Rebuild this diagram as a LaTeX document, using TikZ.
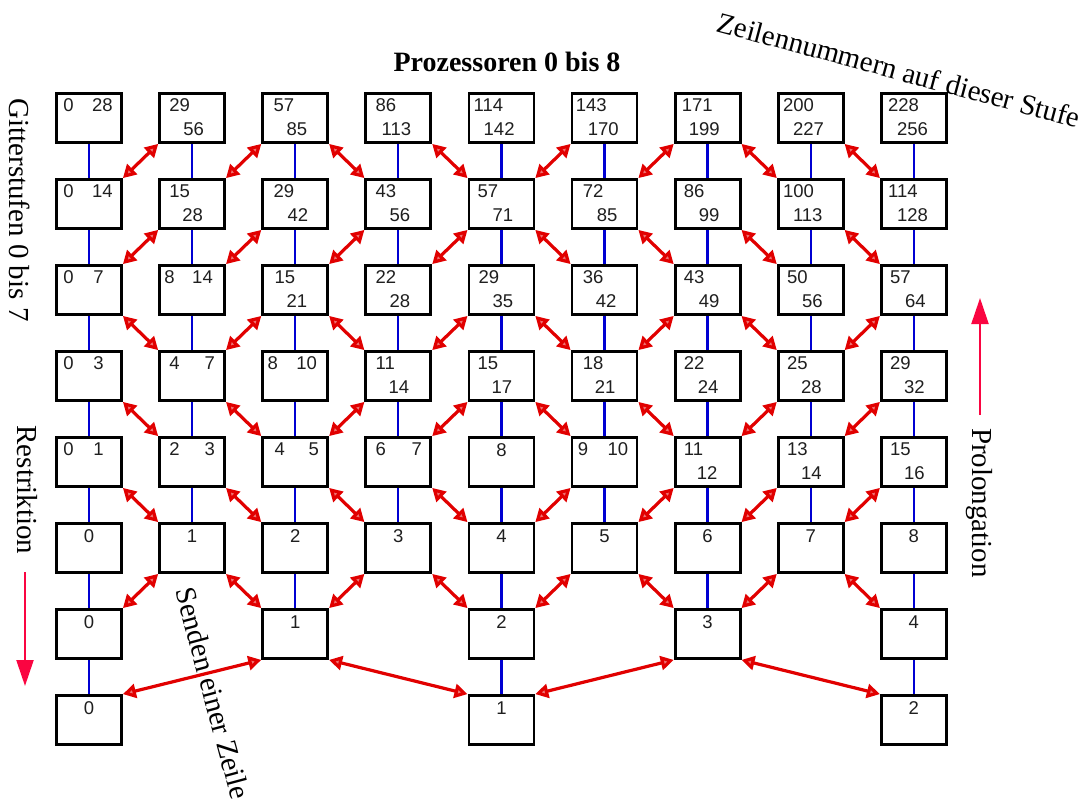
\documentclass[tikz,border=0pt]{standalone}
\usepackage{fontspec}
\setmainfont{Liberation Serif}
\newfontfamily\numfont{Liberation Sans}
\usetikzlibrary{arrows.meta,calc}
\definecolor{xred}{RGB}{225,0,0}
\definecolor{xblue}{RGB}{0,0,210}
\definecolor{pinkred}{RGB}{250,5,65}
\newcommand\nA[4]{\node[num,anchor=west] (#1a) at ($(#1.north west)+(#2,#3)$) {#4};}
\newcommand\nB[4]{\node[num,anchor=west] (#1b) at ($(#1.north west)+(#2,#3)$) {#4};}
\newcommand\nC[4]{\node[num,anchor=east] (#1b) at ($(#1.north east)+(-#2,#3)$) {#4};}
\newcommand\nS[2]{\node[num] (#1a) at ($(#1.north)+(0,14)$) {#2};}
% two-line label: box, x1, first, x2, second
\newcommand\TL[5]{\nA{#1}{#2}{13}{#3}\nB{#1}{#4}{37}{#5}}
% same-line label: box, x1, first, xr, second
\newcommand\SL[5]{\nA{#1}{#2}{13}{#3}\nC{#1}{#4}{13}{#5}}
\begin{document}
\begin{tikzpicture}[x=1pt,y=-1pt,
  box/.style={draw=black,line width=2.8pt,minimum width=65pt,minimum height=49pt,inner sep=0pt},
  num/.style={font=\numfont\fontsize{18.5}{20}\selectfont,inner sep=0pt,text=black!88},
  vline/.style={draw=xblue,line width=2.3pt},
  xarr/.style={draw=xred,line width=3.2pt,{Triangle[open,fill=xred!55!white,length=13pt,width=14pt]}-{Triangle[open,fill=xred!55!white,length=13pt,width=14pt]}},
  bigarr/.style={draw=pinkred,line width=2.2pt,-{Triangle[length=26pt,width=17pt]}},
  lbl/.style={font=\fontsize{29}{32}\selectfont,inner sep=0pt},
]
\useasboundingbox (0,0) rectangle (1091,801);

% boxes
\foreach \j in {0,...,5}
  \foreach \i in {0,...,8}
    \node[box] (b\j\i) at ({89+103.1*\i},{118+86*\j}) {};
\foreach \i in {0,2,4,6,8}
  \node[box] (b6\i) at ({89+103.1*\i},{118+86*6}) {};
\foreach \i in {0,4,8}
  \node[box] (b7\i) at ({89+103.1*\i},{118+86*7}) {};

% vertical blue links
\foreach \j in {0,...,4}{
  \pgfmathtruncatemacro\k{\j+1}
  \foreach \i in {0,...,8}
    \draw[vline] (b\j\i.south) -- (b\k\i.north);
}
\foreach \i in {0,2,4,6,8}
  \draw[vline] (b5\i.south) -- (b6\i.north);
\foreach \i in {0,4,8}
  \draw[vline] (b6\i.south) -- (b7\i.north);

% red exchange arrows (1 = "/" , 0 = "\")
\foreach \j/\pat in {0/{1,1,0,0,1,1,0,0},1/{1,1,1,1,0,0,0,0},2/{0,1,0,1,0,1,0,1},
                     3/{0,0,1,1,0,0,1,1},4/{0,0,0,0,1,1,1,1},5/{1,0,1,0,1,0,1,0}}{
  \pgfmathtruncatemacro\k{\j+1}
  \foreach \d [count=\gi from 0] in \pat {
    \pgfmathtruncatemacro\h{\gi+1}
    \ifnum\d=1
      \draw[xarr] (b\j\h.south west) -- (b\k\gi.north east);
    \else
      \draw[xarr] (b\j\gi.south east) -- (b\k\h.north west);
    \fi
  }
}
\draw[xarr] (b70.north east) -- (b62.south west);
\draw[xarr] (b62.south east) -- (b74.north west);
\draw[xarr] (b74.north east) -- (b66.south west);
\draw[xarr] (b66.south east) -- (b78.north west);

% labels row 0
\SL{b00}{8}{0}{10}{28}
\TL{b01}{11}{29}{25}{56}
\TL{b02}{12}{57}{25}{85}
\TL{b03}{11}{86}{17}{113}
\TL{b04}{6}{114}{16}{142}
\TL{b05}{5}{143}{17}{170}
\TL{b06}{8}{171}{15}{199}
\TL{b07}{6}{200}{16}{227}
\TL{b08}{8}{228}{17}{256}
% row 1
\SL{b10}{8}{0}{10}{14}
\TL{b11}{11}{15}{24}{28}
\TL{b12}{12}{29}{26}{42}
\TL{b13}{11}{43}{25}{56}
\TL{b14}{10}{57}{25}{71}
\TL{b15}{12}{72}{26}{85}
\TL{b16}{10}{86}{25}{99}
\TL{b17}{6}{100}{16}{113}
\TL{b18}{8}{114}{17}{128}
% row 2
\SL{b20}{8}{0}{19}{7}
\SL{b21}{6}{8}{13}{14}
\TL{b22}{13}{15}{25}{21}
\TL{b23}{11}{22}{25}{28}
\TL{b24}{11}{29}{25}{35}
\TL{b25}{12}{36}{25}{42}
\TL{b26}{10}{43}{25}{49}
\TL{b27}{10}{50}{25}{56}
\TL{b28}{10}{57}{25}{64}
% row 3
\SL{b30}{8}{0}{19}{3}
\SL{b31}{11}{4}{11}{7}
\SL{b32}{6}{8}{12}{10}
\TL{b33}{11}{11}{24}{14}
\TL{b34}{10}{15}{24}{17}
\TL{b35}{12}{18}{24}{21}
\TL{b36}{10}{22}{24}{24}
\TL{b37}{10}{25}{24}{28}
\TL{b38}{10}{29}{24}{32}
% row 4
\SL{b40}{8}{0}{19}{1}
\SL{b41}{11}{2}{11}{3}
\SL{b42}{13}{4}{10}{5}
\SL{b43}{11}{6}{10}{7}
\nS{b44}{8}
\SL{b45}{7}{9}{10}{10}
\TL{b46}{10}{11}{23}{12}
\TL{b47}{10}{13}{24}{14}
\TL{b48}{10}{15}{24}{16}
% row 5
\foreach \i in {0,...,8}{\nS{b5\i}{\i}}
% row 6
\nS{b60}{0}\nS{b62}{1}\nS{b64}{2}\nS{b66}{3}\nS{b68}{4}
% row 7
\nS{b70}{0}\nS{b74}{1}\nS{b78}{2}

% texts
\node[lbl,font=\fontsize{28}{30}\selectfont\bfseries] (title) at (507,62) {Prozessoren 0 bis 8};
\node[lbl,rotate=-15] (zeil) at (899,70) {Zeilennummern auf dieser Stufe};
\node[lbl,rotate=-90] (gitter) at (20,210) {Gitterstufen 0 bis 7};
\node[lbl,rotate=-90] (restr) at (27,490) {Restriktion};
\node[lbl,rotate=-90] (prol) at (979,503) {Prolongation};
\node[lbl,rotate=-75] (send) at (213,693) {Senden einer Zeile};

% big arrows
\coordinate (rs) at (25,572);
\coordinate (re) at (25,686);
\draw[bigarr] (rs) -- (re);
\coordinate (ps) at (980,415);
\coordinate (pe) at (980,298);
\draw[bigarr] (ps) -- (pe);
\end{tikzpicture}
\end{document}
